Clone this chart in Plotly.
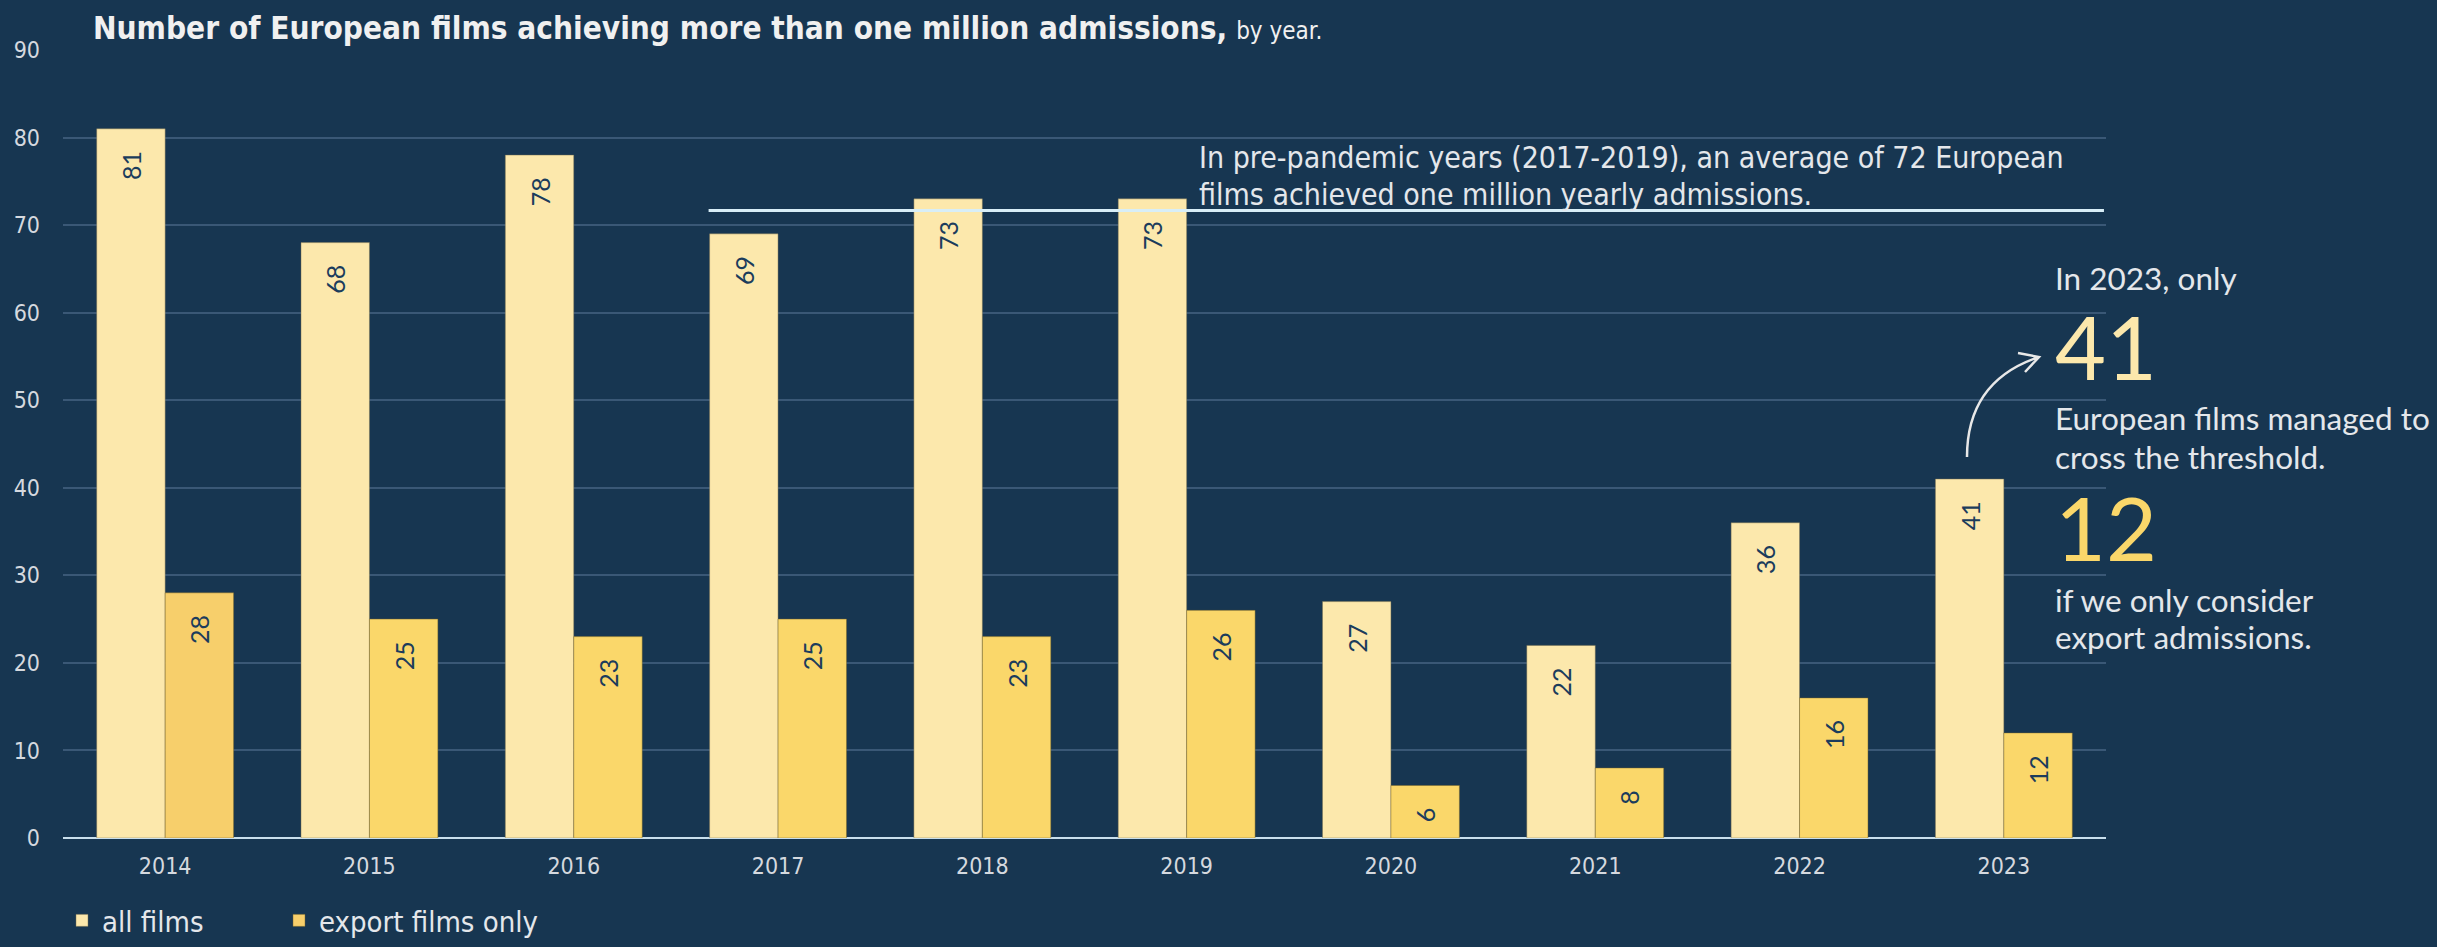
import plotly.graph_objects as go

years = ["2014", "2015", "2016", "2017", "2018", "2019", "2020", "2021", "2022", "2023"]
all_films = [81, 68, 78, 69, 73, 73, 27, 22, 36, 41]
export_films = [28, 25, 23, 25, 23, 26, 6, 8, 16, 12]
export_colors = ["#F7CF6B"] + ["#FAD76A"] * 9
y_ticks = [0, 10, 20, 30, 40, 50, 60, 70, 80, 90]
pre_pandemic_years = ["2017", "2018", "2019"]

BG = "#173651"
W, H = 2437, 947
L, R, T, B = 63, 2106, 50, 838
PW, PH = R - L, B - T

def px(x):
    return (x - L) / PW

def py(y):
    return (B - y) / PH

NARROW = "Liberation Sans Narrow, DejaVu Sans Condensed, Arial Narrow, sans-serif"
REG = "Lato, Noto Sans, sans-serif"
NAVY_TXT = "#1B3C5C"
LIGHT = "#E4E7EB"
PAD = "\u00a0\u00a0\u00a0"

fig = go.Figure()
fig.add_trace(go.Bar(
    x=years, y=all_films, name="all films", legend="legend",
    marker=dict(color="#FCE8AC", line=dict(color="rgba(120,110,80,0.45)", width=1)),
    text=[f"{v}{PAD}" for v in all_films], textposition="inside", insidetextanchor="end",
    textangle=-90, textfont=dict(family=REG, size=25, color=NAVY_TXT),
    cliponaxis=False,
))
fig.add_trace(go.Bar(
    x=years, y=export_films, name="export films only", legend="legend2",
    marker=dict(color=export_colors, line=dict(color="rgba(120,100,40,0.45)", width=1)),
    text=[f"{v}{PAD}" for v in export_films], textposition="inside", insidetextanchor="end",
    textangle=-90, textfont=dict(family=REG, size=25, color=NAVY_TXT),
    cliponaxis=False,
))

avg = sum(all_films[years.index(y)] for y in pre_pandemic_years) / len(pre_pandemic_years)
fig.add_shape(type="line", xref="x", yref="y", x0=2.66, x1=9.49, y0=avg, y1=avg,
              line=dict(color="#D8EEF7", width=3))

# curved arrow
qx, qy = px(1967), py(381)
path = (f"M {px(1967)},{py(457)} Q {qx},{qy} {px(2039)},{py(357)} "
        f"M {px(2018)},{py(353)} L {px(2039)},{py(357)} L {px(2025)},{py(372)}")
fig.add_shape(type="path", xref="paper", yref="paper", path=path,
              line=dict(color="#E8E8E8", width=2.5))

ann = []
ann.append(dict(text="In pre-pandemic years (2017-2019), an average of 72 European",
                x=px(1197), y=py(157), font=dict(family=NARROW, size=30, color=LIGHT)))
ann.append(dict(text="films achieved one million yearly admissions.",
                x=px(1197), y=py(194), font=dict(family=NARROW, size=30, color=LIGHT)))
ann.append(dict(text="In 2023, only", x=px(2053), y=py(278), font=dict(family=REG, size=31.5, color=LIGHT)))
ann.append(dict(text="41", x=px(2053), y=py(346), font=dict(family=REG, size=88, color="#FCE8AC")))
ann.append(dict(text="European films managed to", x=px(2053), y=py(418), font=dict(family=REG, size=31.5, color=LIGHT)))
ann.append(dict(text="cross the threshold.", x=px(2053), y=py(457), font=dict(family=REG, size=31.5, color=LIGHT)))
ann.append(dict(text="12", x=px(2053), y=py(527), font=dict(family=REG, size=88, color="#FAD76A")))
ann.append(dict(text="if we only consider", x=px(2053), y=py(600), font=dict(family=REG, size=31.5, color=LIGHT)))
ann.append(dict(text="export admissions.", x=px(2053), y=py(637), font=dict(family=REG, size=31.5, color=LIGHT)))
for a in ann:
    a.update(xref="paper", yref="paper", xanchor="left", yanchor="middle", showarrow=False)

legend_common = dict(
    orientation="h", xanchor="left", y=py(946), yanchor="bottom",
    font=dict(family=NARROW, size=29, color=LIGHT), bgcolor="rgba(0,0,0,0)",
    borderwidth=0,
)

fig.update_layout(
    width=W, height=H,
    paper_bgcolor=BG, plot_bgcolor=BG,
    margin=dict(l=L, r=W - R, t=T, b=H - B, pad=0, autoexpand=False),
    barmode="group", bargap=0.33, bargroupgap=0,
    title=dict(
        text="<b>Number of European films achieving more than one million admissions,</b>"
             " <span style='font-size:24px'>by year.</span>",
        x=93 / W, xanchor="left", xref="container",
        y=1 - 28 / H, yanchor="middle", yref="container",
        font=dict(family=NARROW, size=31.3, color="#F0F0F0"),
    ),
    xaxis=dict(
        type="category", showgrid=False, showline=False, ticks="",
        tickfont=dict(family=NARROW, size=23, color="#D5D9DF"),
        zeroline=False, ticklabelstandoff=12, automargin=False,
    ),
    yaxis=dict(
        range=[0, 90], tickvals=y_ticks, showgrid=True, gridcolor="#3A5876", gridwidth=2,
        zeroline=True, zerolinecolor="#C9DFEC", zerolinewidth=2,
        ticks="", ticklabelstandoff=22, automargin=False,
        tickfont=dict(family=NARROW, size=23, color="#D5D9DF"),
        showline=False,
    ),
    legend=dict(x=px(62), **legend_common),
    legend2=dict(x=px(279), **legend_common),
    annotations=ann,
    showlegend=True,
)

css_js = (
    "var s=document.createElement('style');"
    "s.textContent='html,body{margin:0;padding:0;overflow:hidden;width:2437px;height:947px;background:#173651;}';"
    "document.head.appendChild(s);"
)
fig.write_html("out.html", config={"displayModeBar": False}, post_script=css_js)
